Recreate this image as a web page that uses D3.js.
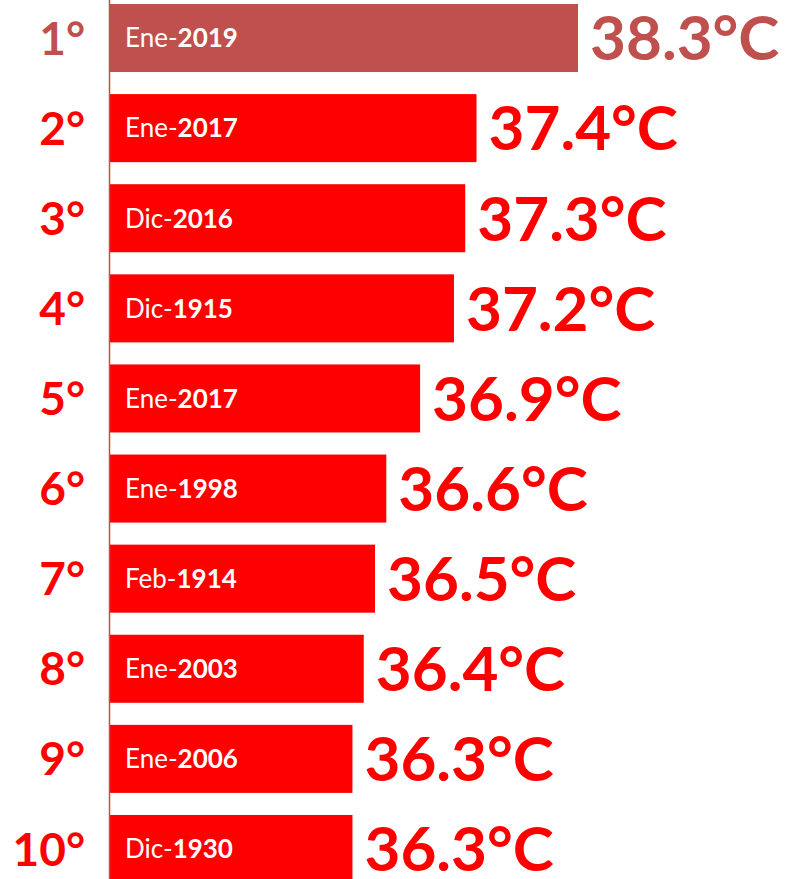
<!DOCTYPE html>
<html lang="es">
<head>
  <meta charset="UTF-8">
  <title>Temperaturas máximas</title>
  <script src="https://d3js.org/d3.v7.min.js"></script>
  <style>
    body {margin: 0; background: #fff;}
    svg {display: block; font-family: Lato, "Open Sans", sans-serif;}
    .rank {font-size: 46px; font-weight: bold;}
    .value {font-size: 62px; font-weight: bold;}
    .inner {font-size: 26px; fill: #fff;}
  </style>
</head>
<body>
  <div id="chart"></div>
  <script>
    // datos
    const ranks = ['1°', '2°', '3°', '4°', '5°', '6°', '7°', '8°', '9°', '10°'];
    const months = ['Ene', 'Ene', 'Dic', 'Dic', 'Ene', 'Ene', 'Feb', 'Ene', 'Ene', 'Dic'];
    const years = ['2019', '2017', '2016', '1915', '2017', '1998', '1914', '2003', '2006', '1930'];
    const temps = [38.3, 37.4, 37.3, 37.2, 36.9, 36.6, 36.5, 36.4, 36.3, 36.3];

    const width = 786, height = 879;
    const left = 110;
    const topColor = '#C0504D', mainColor = '#FF0000';

    const rows = ranks.map((r, i) => ({rank: r, month: months[i], year: years[i], temp: temps[i], i: i}));
    const colorOf = d => d.i === 0 ? topColor : mainColor;

    const svg = d3.select('#chart').append('svg')
      .attr('width', width)
      .attr('height', height);

    const y = d3.scaleBand()
      .domain(ranks)
      .range([4, 883])
      .paddingInner(0.245)
      .paddingOuter(0);

    const x = d3.scaleLinear()
      .domain([34.15, 38.3])
      .range([0, 468]);

    svg.selectAll('.bar')
      .data(rows)
      .enter()
      .append('rect')
      .attr('class', 'bar')
      .attr('x', left)
      .attr('y', d => y(d.rank))
      .attr('width', d => x(d.temp))
      .attr('height', y.bandwidth())
      .attr('fill', colorOf);

    // eje vertical
    svg.append('line')
      .attr('x1', left - 0.5)
      .attr('x2', left - 0.5)
      .attr('y1', 0)
      .attr('y2', height)
      .attr('stroke', topColor)
      .attr('stroke-width', 1.5);

    svg.selectAll('.rank')
      .data(rows)
      .enter()
      .append('text')
      .attr('class', 'rank')
      .attr('x', 85)
      .attr('y', d => y(d.rank) + y.bandwidth() / 2)
      .attr('dy', '0.36em')
      .attr('text-anchor', 'end')
      .attr('fill', colorOf)
      .text(d => d.rank);

    const inner = svg.selectAll('.inner')
      .data(rows)
      .enter()
      .append('text')
      .attr('class', 'inner')
      .attr('x', left + 15)
      .attr('y', d => y(d.rank) + y.bandwidth() / 2)
      .attr('dy', '0.36em');
    inner.append('tspan').text(d => d.month + '-');
    inner.append('tspan').attr('font-weight', 'bold').text(d => d.year);

    svg.selectAll('.value')
      .data(rows)
      .enter()
      .append('text')
      .attr('class', 'value')
      .attr('x', d => left + x(d.temp) + 12)
      .attr('y', d => y(d.rank) + y.bandwidth() / 2)
      .attr('dy', '0.36em')
      .attr('fill', colorOf)
      .text(d => d.temp.toFixed(1) + '°C');
  </script>
</body>
</html>
